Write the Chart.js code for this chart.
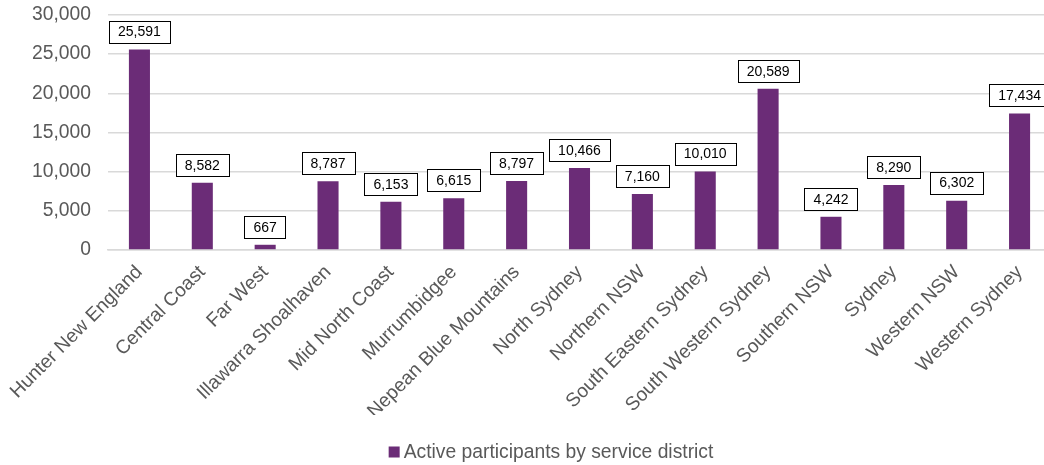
<!DOCTYPE html>
<html>
<head>
<meta charset="utf-8">
<script src="https://cdn.jsdelivr.net/npm/chart.js@4.4.0/dist/chart.umd.min.js"></script>
<style>
    html, body { margin: 0; padding: 0; background: #fff; overflow: hidden; }
    #wrap { width: 1044px; height: 465px; overflow: hidden; position: relative; }
    #box { width: 1102px; height: 465px; position: absolute; left: 0; top: 0; }
</style>
</head>
<body>
<div id="wrap">
    <div id="box"><canvas id="distritos"></canvas></div>
</div>
<script>
var distritos = [
    'Hunter New England',
    'Central Coast',
    'Far West',
    'Illawarra Shoalhaven',
    'Mid North Coast',
    'Murrumbidgee',
    'Nepean Blue Mountains',
    'North Sydney',
    'Northern NSW',
    'South Eastern Sydney',
    'South Western Sydney',
    'Southern NSW',
    'Sydney',
    'Western NSW',
    'Western Sydney'
];

var participantes = [25591, 8582, 667, 8787, 6153, 6615, 8797, 10466, 7160, 10010, 20589, 4242, 8290, 6302, 17434];

var rotulo = 'Active participants by service district';

var corBarra = '#6b2c77';
var fonte = 'Arial, "Liberation Sans", sans-serif';

// caixinhas com o valor em cima de cada barra
var caixaValor = {
    id: 'caixaValor',
    afterDatasetsDraw: function (chart) {
        var ctx = chart.ctx;
        var meta = chart.getDatasetMeta(0);
        ctx.save();
        ctx.font = '14px ' + fonte;
        ctx.textAlign = 'center';
        ctx.textBaseline = 'middle';
        meta.data.forEach(function (bar, i) {
            var txt = participantes[i].toLocaleString('en-US');
            var w = ctx.measureText(txt).width + 18;
            var h = 22;
            var x = bar.x - w / 2;
            var y = bar.y - 7 - h;
            ctx.fillStyle = '#fff';
            ctx.fillRect(x, y, w, h);
            ctx.strokeStyle = '#000';
            ctx.lineWidth = 1;
            ctx.strokeRect(Math.round(x) + 0.5, Math.round(y) + 0.5, Math.round(w), h);
            ctx.fillStyle = '#000';
            ctx.fillText(txt, bar.x, y + h / 2 + 1);
        });
        ctx.restore();
    }
};

// legenda desenhada na mao (quadradinho colado no texto)
var legendaBaixo = {
    id: 'legendaBaixo',
    afterDraw: function (chart) {
        var ctx = chart.ctx;
        ctx.save();
        ctx.font = '19.3px ' + fonte;
        var tw = ctx.measureText(rotulo).width;
        var total = 11 + 4 + tw;
        var x = chart.width / 2 - total / 2;
        var y = 452;
        ctx.fillStyle = corBarra;
        ctx.fillRect(x, y - 5.5, 11, 11);
        ctx.fillStyle = '#595959';
        ctx.textBaseline = 'middle';
        ctx.textAlign = 'left';
        ctx.fillText(rotulo, x + 15, y + 1);
        ctx.restore();
    }
};

var graphDistritos = new Chart(document.getElementById('distritos'), {
    type: 'bar',
    data: {
        labels: distritos,
        datasets: [{
            label: rotulo,
            data: participantes,
            backgroundColor: corBarra,
            categoryPercentage: 1,
            barPercentage: 0.335
        }]
    },
    options: {
        responsive: true,
        maintainAspectRatio: false,
        animation: false,
        layout: {
            padding: { top: 15, right: 51, left: 0, bottom: 50 }
        },
        scales: {
            x: {
                afterFit: function (scale) { scale.height = 165; },
                grid: { display: false },
                border: { color: '#d9d9d9', width: 1.5 },
                ticks: {
                    autoSkip: false,
                    maxRotation: 45,
                    minRotation: 45,
                    color: '#595959',
                    font: { family: fonte, size: 19.3 }
                }
            },
            y: {
                min: 0,
                max: 30000,
                afterFit: function (scale) {
                    scale.width = 108;
                    scale.paddingTop = 0;
                    scale.paddingBottom = 0;
                },
                grid: { color: '#d9d9d9', lineWidth: 1.5, drawTicks: false },
                border: { display: false },
                ticks: {
                    stepSize: 5000,
                    padding: 17,
                    color: '#595959',
                    font: { family: fonte, size: 19.3 },
                    callback: function (v) { return v.toLocaleString('en-US'); }
                }
            }
        },
        plugins: {
            legend: { display: false },
            tooltip: { enabled: false }
        }
    },
    plugins: [caixaValor, legendaBaixo]
});
</script>
</body>
</html>
